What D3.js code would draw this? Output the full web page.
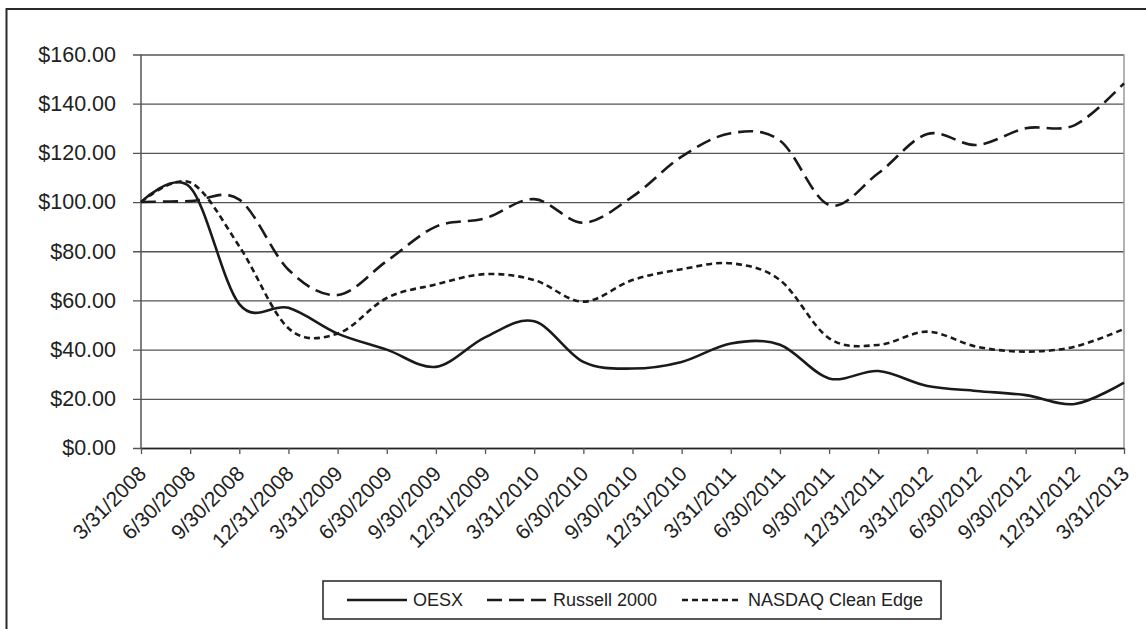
<!DOCTYPE html>
<html>
<head>
<meta charset="utf-8">
<script src="https://cdn.jsdelivr.net/npm/d3@7"></script>
<style>
  body { margin: 0; background: #fff; }
  svg { display: block; font-family: "Liberation Sans", Arial, sans-serif; }
</style>
</head>
<body>
<div id="chart"></div>
<script>
// Quarter ends shown on the x axis
const quarters = ['3/31/2008', '6/30/2008', '9/30/2008', '12/31/2008', '3/31/2009', '6/30/2009',
  '9/30/2009', '12/31/2009', '3/31/2010', '6/30/2010', '9/30/2010', '12/31/2010', '3/31/2011',
  '6/30/2011', '9/30/2011', '12/31/2011', '3/31/2012', '6/30/2012', '9/30/2012', '12/31/2012', '3/31/2013'];

// Value of $100 invested
const oesx = [100, 106, 58.5, 57, 46.5, 40, 33, 45, 51.5, 35, 32.3, 35, 42.5, 42, 28.3, 31.3, 25.2, 23.2, 21.5, 17.9, 26.6];
const russell2000 = [100, 100.4, 101, 72.5, 62.2, 76, 90, 93.4, 101.2, 91.6, 102.2, 118.5, 128, 125, 98.8, 111.7, 127.7, 123.2, 130, 131.3, 148.3];
const nasdaqCleanEdge = [100, 108, 82, 48.7, 46.5, 61, 66.5, 70.7, 68.3, 59.5, 68.3, 72.7, 75.1, 68.3, 44.6, 41.9, 47.3, 41.2, 39.2, 41.2, 48.4];

const seriesNames = ['OESX', 'Russell 2000', 'NASDAQ Clean Edge'];
const yTicks = [0, 20, 40, 60, 80, 100, 120, 140, 160];

class LineChart {
  constructor(_config) {
    this.config = {
      parentElement: _config.parentElement,
      containerWidth: _config.containerWidth,
      containerHeight: _config.containerHeight,
      plot: { left: 141, right: 1124, top: 54.5, bottom: 448 },
      dashes: [null, '15,7', '6,4'],
      legend: { x: 323, y: 581, width: 618, height: 38, lineLen: 60,
                itemX: [347, 487, 682] }
    };
    this.series = [oesx, russell2000, nasdaqCleanEdge].map((values, i) => ({
      name: seriesNames[i],
      dash: this.config.dashes[i],
      values: values.map((v, j) => ({ q: quarters[j], v: v }))
    }));
    this.initVis();
  }

  initVis() {
    let vis = this;

    vis.svg = d3.select(vis.config.parentElement).append('svg')
      .attr('width', vis.config.containerWidth)
      .attr('height', vis.config.containerHeight);

    // Outer frame, runs off the right and bottom edges like the original
    vis.svg.append('rect')
      .attr('x', 6.5).attr('y', 9)
      .attr('width', 1200).attr('height', 700)
      .attr('fill', 'none')
      .attr('stroke', '#2a2a2a')
      .attr('stroke-width', 2);

    const p = vis.config.plot;
    vis.xScale = d3.scalePoint().domain(quarters).range([p.left, p.right]);
    vis.yScale = d3.scaleLinear().domain([0, 160]).range([p.bottom, p.top]);

    vis.chart = vis.svg.append('g');
    vis.updateVis();
  }

  updateVis() {
    let vis = this;
    vis.line = d3.line()
      .x(d => vis.xScale(d.q))
      .y(d => vis.yScale(d.v))
      .curve(d3.curveCardinal.tension(0));
    vis.renderVis();
  }

  renderVis() {
    let vis = this;
    const p = vis.config.plot;
    const font = '"Liberation Sans", Arial, sans-serif';

    // Gridlines (they poke out left of the axis like tick marks)
    vis.chart.append('g')
      .attr('transform', `translate(${p.right},0)`)
      .call(d3.axisLeft(vis.yScale).tickValues(yTicks).tickSize(p.right - p.left + 8).tickFormat(''))
      .call(g => g.select('.domain').remove())
      .call(g => g.selectAll('.tick line').attr('stroke', '#555').attr('stroke-width', 1.3));

    // Y labels
    vis.chart.append('g')
      .attr('transform', `translate(${p.left},0)`)
      .call(d3.axisLeft(vis.yScale).tickValues(yTicks).tickSize(0).tickPadding(25)
        .tickFormat(d => '$' + d3.format('.2f')(d)))
      .call(g => g.select('.domain').remove())
      .call(g => g.selectAll('text').attr('font-size', 21.5).attr('fill', '#222').attr('font-family', font));

    // Right border of plot area
    vis.chart.append('line')
      .attr('x1', p.right).attr('x2', p.right)
      .attr('y1', p.top).attr('y2', p.bottom)
      .attr('stroke', '#999').attr('stroke-width', 1.5);

    // Left axis line
    vis.chart.append('line')
      .attr('x1', p.left).attr('x2', p.left)
      .attr('y1', p.top).attr('y2', p.bottom)
      .attr('stroke', '#555').attr('stroke-width', 1.5);

    // X axis with rotated labels
    vis.chart.append('g')
      .attr('transform', `translate(0,${p.bottom})`)
      .call(d3.axisBottom(vis.xScale).tickSize(6).tickSizeOuter(0))
      .call(g => g.select('.domain').attr('stroke', '#222').attr('stroke-width', 1.5))
      .call(g => g.selectAll('.tick line').attr('stroke', '#555').attr('stroke-width', 1.3))
      .call(g => g.selectAll('text')
        .attr('font-size', 21)
        .attr('fill', '#222')
        .attr('font-family', font)
        .attr('text-anchor', 'end')
        .attr('x', 0).attr('y', 0).attr('dy', 0)
        .attr('transform', 'translate(6,27) rotate(-45)'));

    // Series lines
    vis.chart.selectAll('.series')
      .data(vis.series)
      .join('path')
      .attr('class', 'series')
      .attr('d', d => vis.line(d.values))
      .attr('fill', 'none')
      .attr('stroke', '#1a1a1a')
      .attr('stroke-width', 2.6)
      .attr('stroke-dasharray', d => d.dash);

    // Legend
    const lg = vis.config.legend;
    const legend = vis.svg.append('g');
    legend.append('rect')
      .attr('x', lg.x).attr('y', lg.y)
      .attr('width', lg.width).attr('height', lg.height)
      .attr('fill', '#fff')
      .attr('stroke', '#222')
      .attr('stroke-width', 1.5);
    const items = legend.selectAll('.legend-item')
      .data(vis.series)
      .join('g')
      .attr('class', 'legend-item')
      .attr('transform', (d, i) => `translate(${lg.itemX[i]},${lg.y + lg.height / 2})`);
    items.append('line')
      .attr('x1', 0).attr('x2', lg.lineLen)
      .attr('stroke', '#1a1a1a')
      .attr('stroke-width', 2.6)
      .attr('stroke-dasharray', d => d.dash);
    items.append('text')
      .attr('x', lg.lineLen + 6)
      .attr('dy', '0.35em')
      .attr('font-size', 18)
      .attr('fill', '#222')
      .text(d => d.name);
  }
}

new LineChart({ parentElement: '#chart', containerWidth: 1146, containerHeight: 629 });
</script>
</body>
</html>
